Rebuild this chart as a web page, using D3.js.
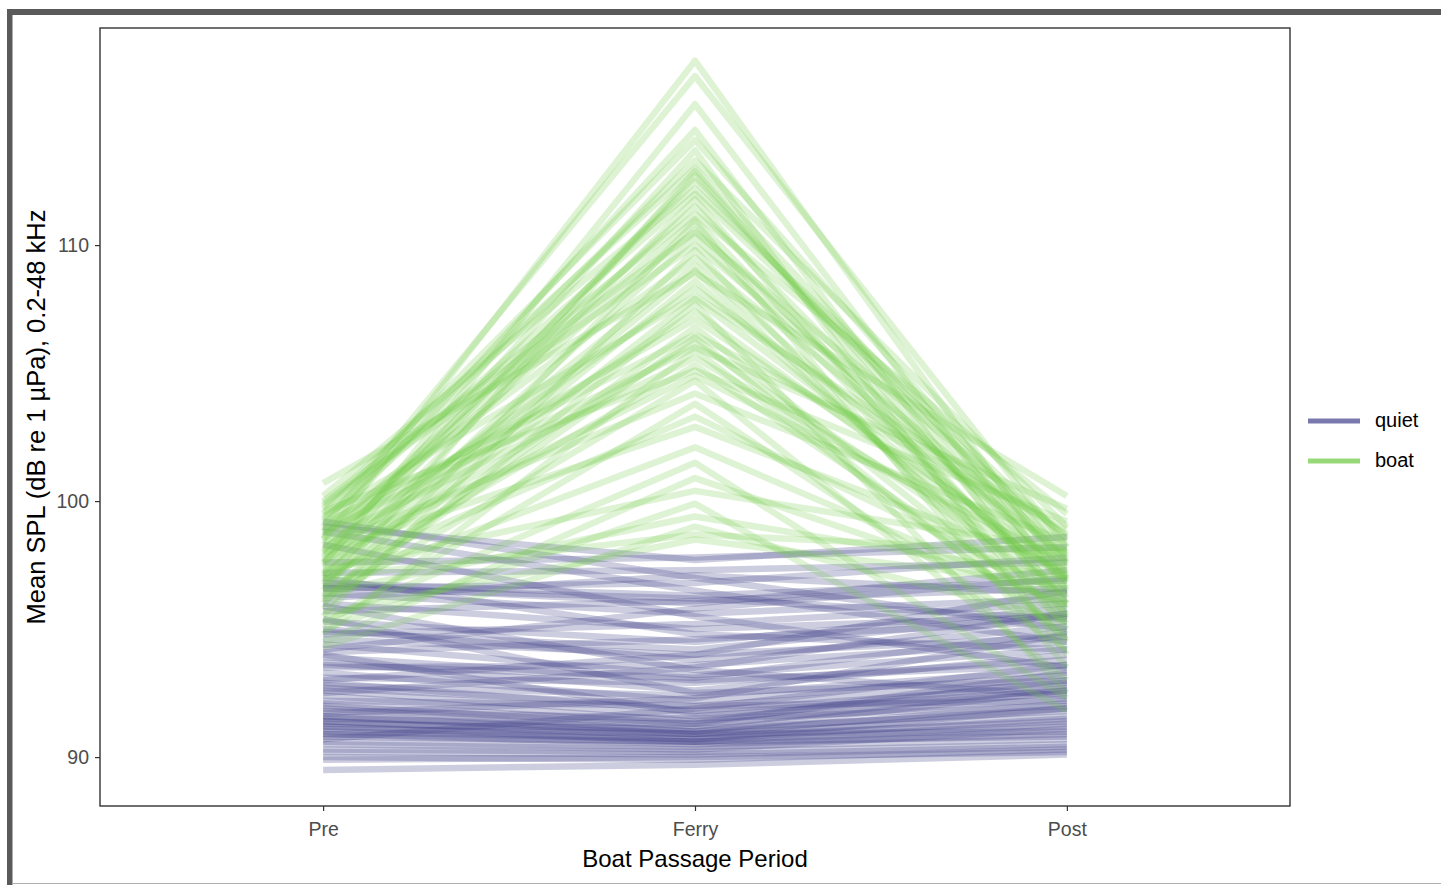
<!DOCTYPE html>
<html>
<head>
<meta charset="utf-8">
<script src="https://cdn.jsdelivr.net/npm/d3@7/dist/d3.min.js"></script>
<style>
  html, body { margin: 0; padding: 0; background: #ffffff; }
  svg { display: block; font-family: "Liberation Sans", Arial, sans-serif; }
</style>
</head>
<body>
<svg id="chart" width="1441" height="885"></svg>
<script>
// Periods along the x axis
const periods = ["Pre", "Ferry", "Post"];
const yTicks = [90, 100, 110];
const groups = ["quiet", "boat"];

// Mean SPL per recording: [Pre, Ferry, Post]
const quietLines = [
  [99.2, 97.0, 95.0], [99.0, 97.7, 98.6], [98.8, 96.5, 94.5], [98.3, 95.5, 93.5],
  [97.6, 97.8, 98.2], [97.2, 97.3, 97.6], [96.8, 96.3, 96.9], [96.7, 96.0, 97.3],
  [96.6, 96.8, 97.8], [96.4, 95.6, 96.2], [96.0, 95.0, 95.5], [95.7, 96.1, 96.6],
  [95.3, 94.5, 95.8], [95.0, 93.8, 95.1], [94.8, 95.2, 96.0], [94.6, 94.0, 94.7],
  [94.4, 93.2, 94.2], [94.1, 94.6, 95.3], [93.9, 93.0, 93.6], [93.7, 92.6, 94.0],
  [93.5, 93.6, 94.5], [93.3, 92.2, 93.2], [93.1, 92.9, 93.8], [92.9, 91.8, 92.8],
  [92.8, 92.4, 93.4], [92.6, 91.6, 92.5], [92.4, 91.4, 93.0], [92.2, 92.0, 92.2],
  [92.0, 91.2, 92.7], [91.9, 91.0, 91.9], [91.8, 91.5, 92.0], [91.6, 90.9, 91.6],
  [91.5, 91.3, 92.3], [91.4, 90.8, 91.4], [91.3, 91.1, 91.8], [91.2, 90.6, 91.2],
  [91.1, 90.9, 91.0], [91.0, 90.7, 91.5], [90.9, 90.5, 90.9], [90.8, 90.6, 90.8],
  [90.6, 90.4, 90.7], [90.5, 90.3, 91.1], [90.3, 90.2, 90.5], [90.2, 90.1, 90.4],
  [90.0, 89.9, 90.3], [89.9, 90.0, 90.2], [89.5, 89.7, 90.1], [95.4, 92.5, 93.0],
  [94.0, 91.7, 92.6], [93.0, 94.0, 96.5], [92.5, 93.5, 95.6], [97.0, 94.8, 94.2],
  [95.9, 93.4, 92.4], [91.7, 92.3, 94.8], [90.7, 91.9, 93.6], [96.2, 97.1, 96.4],
  [94.2, 95.8, 97.0], [91.4, 90.9, 92.1], [91.2, 90.7, 91.9], [91.6, 91.0, 92.6],
  [92.1, 91.3, 93.3], [90.9, 90.6, 91.3], [93.6, 93.1, 94.9], [96.6, 96.2, 95.4],
  [94.9, 94.2, 95.6], [92.7, 92.0, 92.9]
];

const boatLines = [
  [98.5, 117.2, 97.0], [99.0, 116.6, 98.2], [97.5, 115.5, 96.5], [98.8, 114.5, 95.5],
  [99.5, 114.1, 97.8], [97.8, 113.7, 94.0], [99.2, 113.3, 99.0], [96.5, 112.9, 96.0],
  [98.0, 112.5, 97.5], [100.2, 112.2, 98.5], [97.2, 111.8, 95.0], [98.6, 111.5, 96.8],
  [99.7, 111.2, 99.5], [96.0, 110.9, 93.5], [98.3, 110.6, 97.2], [97.0, 110.3, 96.2],
  [99.9, 110.0, 98.0], [95.5, 109.8, 94.5], [98.9, 109.5, 97.7], [97.6, 109.2, 96.6],
  [100.7, 108.9, 100.2], [96.8, 108.6, 95.8], [98.1, 108.3, 97.9], [99.4, 108.0, 98.7],
  [95.8, 107.7, 92.5], [97.9, 107.4, 96.9], [98.7, 107.1, 97.4], [96.3, 106.8, 95.2],
  [99.1, 106.5, 98.9], [97.4, 106.2, 96.4], [94.8, 105.9, 94.8], [98.4, 105.6, 97.1],
  [96.9, 105.3, 95.6], [99.6, 105.1, 99.2], [97.7, 104.9, 97.6], [96.1, 104.7, 93.0],
  [98.2, 104.2, 98.4], [95.2, 103.8, 94.2], [97.1, 103.3, 96.3], [98.0, 102.9, 97.3],
  [96.6, 102.1, 95.9], [94.5, 100.9, 96.0], [97.3, 100.4, 98.1], [95.0, 99.9, 91.8],
  [96.4, 99.4, 97.0], [94.3, 99.0, 95.3], [97.0, 98.7, 98.0], [95.6, 98.5, 96.7],
  [99.8, 113.0, 97.6], [98.5, 111.0, 96.0], [97.1, 109.0, 95.4], [99.3, 112.0, 98.2],
  [96.7, 107.9, 97.0], [98.8, 106.0, 99.7], [100.0, 110.5, 98.6], [97.6, 112.7, 96.9],
  [95.3, 101.5, 92.3], [96.2, 106.4, 94.6]
];

const groupColor = { quiet: "#45458e", boat: "#6fcb45" };
const groupOpacity = { quiet: 0.27, boat: 0.23 };

const svg = d3.select("#chart");

// Outer frame of the figure
svg.append("rect").attr("x", 7).attr("y", 9).attr("width", 1441).attr("height", 6).attr("fill", "#5a5a5a");
svg.append("rect").attr("x", 7).attr("y", 9).attr("width", 5.5).attr("height", 880).attr("fill", "#5a5a5a");
svg.append("line").attr("x1", 12).attr("x2", 1441).attr("y1", 883.5).attr("y2", 883.5)
  .attr("stroke", "#b0b0b0").attr("stroke-width", 1);

const panel = { left: 100, right: 1290, top: 28, bottom: 806 };

const x = d3.scalePoint().domain(periods).range([panel.left, panel.right]).padding(0.6);
const y = d3.scaleLinear().domain([88.09, 118.48]).range([panel.bottom, panel.top]);

const line = d3.line()
  .x((d, i) => x(periods[i]))
  .y(d => y(d));

svg.append("clipPath").attr("id", "panelClip").append("rect")
  .attr("x", panel.left).attr("y", panel.top)
  .attr("width", panel.right - panel.left).attr("height", panel.bottom - panel.top);

const plot = svg.append("g").attr("clip-path", "url(#panelClip)");

function drawGroup(rows, name) {
  plot.append("g").selectAll("path")
    .data(rows)
    .join("path")
    .attr("d", line)
    .attr("fill", "none")
    .attr("stroke", groupColor[name])
    .attr("stroke-opacity", groupOpacity[name])
    .attr("stroke-width", 6.5)
    .attr("stroke-linejoin", "round")
    .attr("stroke-linecap", "butt");
}
drawGroup(quietLines, "quiet");
drawGroup(boatLines, "boat");

// Panel border
svg.append("rect")
  .attr("x", panel.left).attr("y", panel.top)
  .attr("width", panel.right - panel.left).attr("height", panel.bottom - panel.top)
  .attr("fill", "none").attr("stroke", "#333333").attr("stroke-width", 1.4);

// Axes
const xAxis = svg.append("g").attr("transform", `translate(0,${panel.bottom})`)
  .call(d3.axisBottom(x).tickSize(5).tickPadding(8));
const yAxis = svg.append("g").attr("transform", `translate(${panel.left},0)`)
  .call(d3.axisLeft(y).tickValues(yTicks).tickSize(5).tickPadding(6));

[xAxis, yAxis].forEach(a => {
  a.select(".domain").remove();
  a.selectAll(".tick line").attr("stroke", "#333333").attr("stroke-width", 1.2);
  a.selectAll(".tick text")
    .attr("fill", "#4d4d4d")
    .style("font-size", "19.5px")
    .style("font-family", "'Liberation Sans', Arial, sans-serif");
});
xAxis.selectAll(".tick text").attr("dy", "0.85em");
yAxis.selectAll(".tick text").attr("dy", "0.35em");

// Axis titles
svg.append("text")
  .attr("x", (panel.left + panel.right) / 2).attr("y", 867)
  .attr("text-anchor", "middle")
  .attr("fill", "#000")
  .style("font-size", "24px")
  .text("Boat Passage Period");

svg.append("text")
  .attr("transform", `translate(45,${(panel.top + panel.bottom) / 2}) rotate(-90)`)
  .attr("text-anchor", "middle")
  .attr("fill", "#000")
  .style("font-size", "25.5px")
  .text("Mean SPL (dB re 1 µPa), 0.2-48 kHz");

// Legend
const legend = svg.append("g").attr("transform", "translate(1308,421)");
groups.forEach((g, i) => {
  const row = legend.append("g").attr("transform", `translate(0,${i * 40})`);
  row.append("line")
    .attr("x1", 0).attr("x2", 52).attr("y1", 0).attr("y2", 0)
    .attr("stroke", groupColor[g]).attr("stroke-opacity", 0.72).attr("stroke-width", 5);
  row.append("text")
    .attr("x", 67).attr("y", 0).attr("dy", "0.32em")
    .attr("fill", "#000")
    .style("font-size", "20px")
    .text(g);
});
</script>
</body>
</html>
